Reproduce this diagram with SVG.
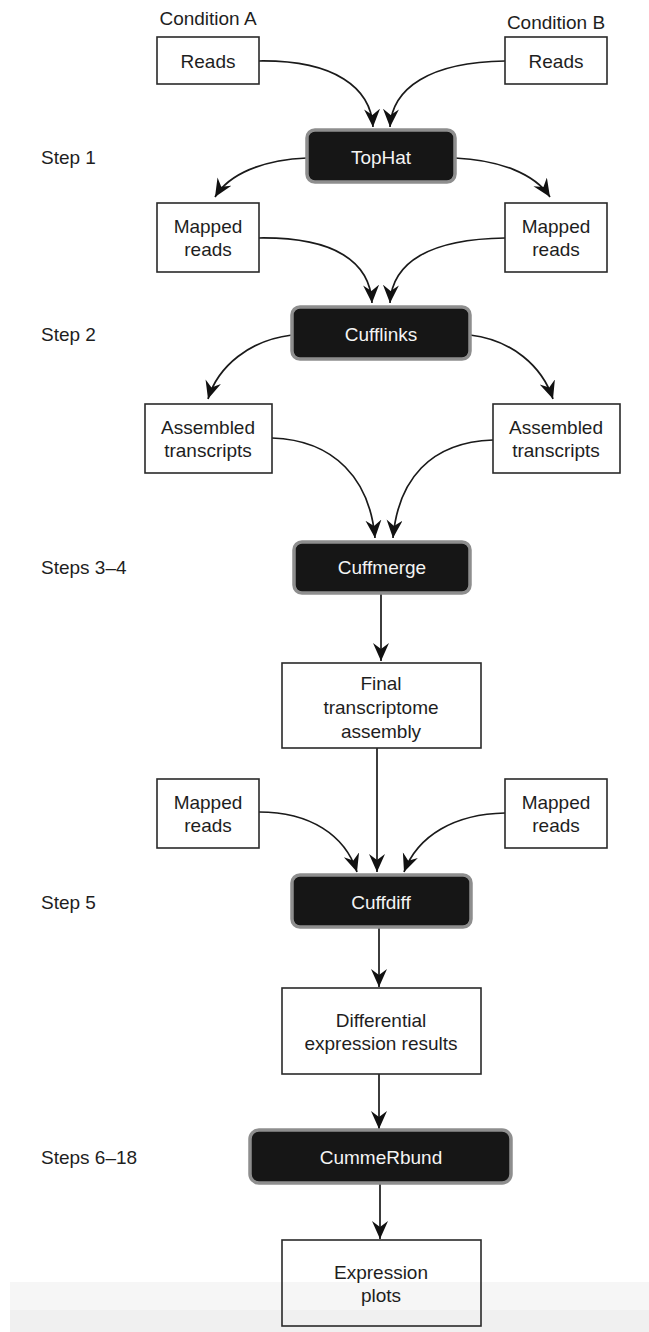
<svg xmlns="http://www.w3.org/2000/svg" width="649" height="1332" viewBox="0 0 649 1332">
  <style>
    text { font-family: "Liberation Sans", Arial, sans-serif; font-size: 19px; fill: #1e1e1e; text-anchor: middle; }
    .label { text-anchor: start; }
    .box { fill: none; stroke: #2a2a2a; stroke-width: 1.6; }
    .proc { fill: #121212; stroke: #8e8e8e; stroke-width: 3.5; }
    .proc-text { fill: #f4f4f4; }
    .edge { fill: none; stroke: #1a1a1a; stroke-width: 1.7; marker-end: url(#arrow); }
  </style>
  <defs>
    <!-- notched black arrowhead, tip at the path end -->
    <marker id="arrow" markerUnits="userSpaceOnUse" markerWidth="20" markerHeight="18" refX="18" refY="8" orient="auto">
      <path d="M0,0 L18,8 L0,16 L6,8 Z" fill="#111"/>
    </marker>
    <filter id="soft" x="-10%" y="-20%" width="120%" height="140%">
      <feGaussianBlur stdDeviation="0.6"/>
    </filter>
  </defs>

  <!-- page -->
  <rect x="0" y="0" width="649" height="1332" fill="#ffffff"/>
  <rect x="10" y="1282" width="639" height="50" fill="#f6f6f6"/>
  <rect x="10" y="1310" width="639" height="22" fill="#f0f0f0"/>

  <!-- step labels -->
  <g id="step-labels">
    <text class="label" x="41" y="164">Step 1</text>
    <text class="label" x="41" y="341">Step 2</text>
    <text class="label" x="41" y="574">Steps 3–4</text>
    <text class="label" x="41" y="909">Step 5</text>
    <text class="label" x="41" y="1164">Steps 6–18</text>
  </g>

  <!-- condition headers -->
  <g id="cond-a"><text x="208" y="25">Condition A</text></g>
  <g id="cond-b"><text x="556" y="29">Condition B</text></g>

  <!-- connectors -->
  <g id="connectors">
    <path class="edge" d="M259,61 C335,60 371,88 373,127"/>
    <path class="edge" d="M505,61 C430,62 392,88 390,127"/>
    <path class="edge" d="M307,158 C262,160 229,174 215,197"/>
    <path class="edge" d="M455,158 C500,160 535,174 550,197"/>
    <path class="edge" d="M259,238 C335,237 370,262 372,303"/>
    <path class="edge" d="M505,238 C430,239 392,262 390,303"/>
    <path class="edge" d="M292,335 C250,340 218,366 208,399"/>
    <path class="edge" d="M470,335 C512,340 542,366 553,399"/>
    <path class="edge" d="M272,438 C335,440 370,480 375,538"/>
    <path class="edge" d="M493,440 C430,442 398,480 393,538"/>
    <path class="edge" d="M381,593 L381,661"/>
    <path class="edge" d="M377,748 L377,872"/>
    <path class="edge" d="M259,812 C310,812 345,835 357,872"/>
    <path class="edge" d="M505,813 C455,814 418,835 404,872"/>
    <path class="edge" d="M379,927 L379,987"/>
    <path class="edge" d="M379,1074 L379,1129"/>
    <path class="edge" d="M380,1183 L380,1239"/>
  </g>

  <!-- input reads -->
  <g id="reads-a">
    <rect class="box" x="157" y="37" width="102" height="47"/>
    <text x="208" y="68">Reads</text>
  </g>
  <g id="reads-b">
    <rect class="box" x="505" y="37" width="102" height="47"/>
    <text x="556" y="68">Reads</text>
  </g>

  <!-- step 1 -->
  <g id="tophat">
    <rect class="proc" x="307" y="130" width="148" height="52" rx="8" filter="url(#soft)"/>
    <text class="proc-text" x="381" y="164">TopHat</text>
  </g>

  <g id="mapped-a">
    <rect class="box" x="157" y="203" width="102" height="69"/>
    <text x="208" y="233">Mapped</text>
    <text x="208" y="256">reads</text>
  </g>
  <g id="mapped-b">
    <rect class="box" x="505" y="203" width="102" height="69"/>
    <text x="556" y="233">Mapped</text>
    <text x="556" y="256">reads</text>
  </g>

  <!-- step 2 -->
  <g id="cufflinks">
    <rect class="proc" x="292" y="307" width="178" height="52" rx="8" filter="url(#soft)"/>
    <text class="proc-text" x="381" y="341">Cufflinks</text>
  </g>

  <g id="assembled-a">
    <rect class="box" x="145" y="404" width="127" height="69"/>
    <text x="208" y="434">Assembled</text>
    <text x="208" y="457">transcripts</text>
  </g>
  <g id="assembled-b">
    <rect class="box" x="493" y="404" width="127" height="69"/>
    <text x="556" y="434">Assembled</text>
    <text x="556" y="457">transcripts</text>
  </g>

  <!-- steps 3-4 -->
  <g id="cuffmerge">
    <rect class="proc" x="294" y="542" width="176" height="51" rx="8" filter="url(#soft)"/>
    <text class="proc-text" x="382" y="574">Cuffmerge</text>
  </g>

  <g id="final-assembly">
    <rect class="box" x="282" y="663" width="199" height="85"/>
    <text x="381" y="690">Final</text>
    <text x="381" y="714">transcriptome</text>
    <text x="381" y="738">assembly</text>
  </g>

  <g id="mapped-a2">
    <rect class="box" x="157" y="779" width="102" height="69"/>
    <text x="208" y="809">Mapped</text>
    <text x="208" y="832">reads</text>
  </g>
  <g id="mapped-b2">
    <rect class="box" x="505" y="779" width="102" height="69"/>
    <text x="556" y="809">Mapped</text>
    <text x="556" y="832">reads</text>
  </g>

  <!-- step 5 -->
  <g id="cuffdiff">
    <rect class="proc" x="292" y="875" width="179" height="52" rx="8" filter="url(#soft)"/>
    <text class="proc-text" x="381" y="909">Cuffdiff</text>
  </g>

  <g id="diff-results">
    <rect class="box" x="282" y="988" width="199" height="86"/>
    <text x="381" y="1027">Differential</text>
    <text x="381" y="1050">expression results</text>
  </g>

  <!-- steps 6-18 -->
  <g id="cummerbund">
    <rect class="proc" x="250" y="1130" width="261" height="53" rx="9" filter="url(#soft)"/>
    <text class="proc-text" x="381" y="1164">CummeRbund</text>
  </g>

  <g id="expression-plots">
    <rect class="box" x="282" y="1240" width="199" height="86"/>
    <text x="381" y="1279">Expression</text>
    <text x="381" y="1302">plots</text>
  </g>
</svg>
